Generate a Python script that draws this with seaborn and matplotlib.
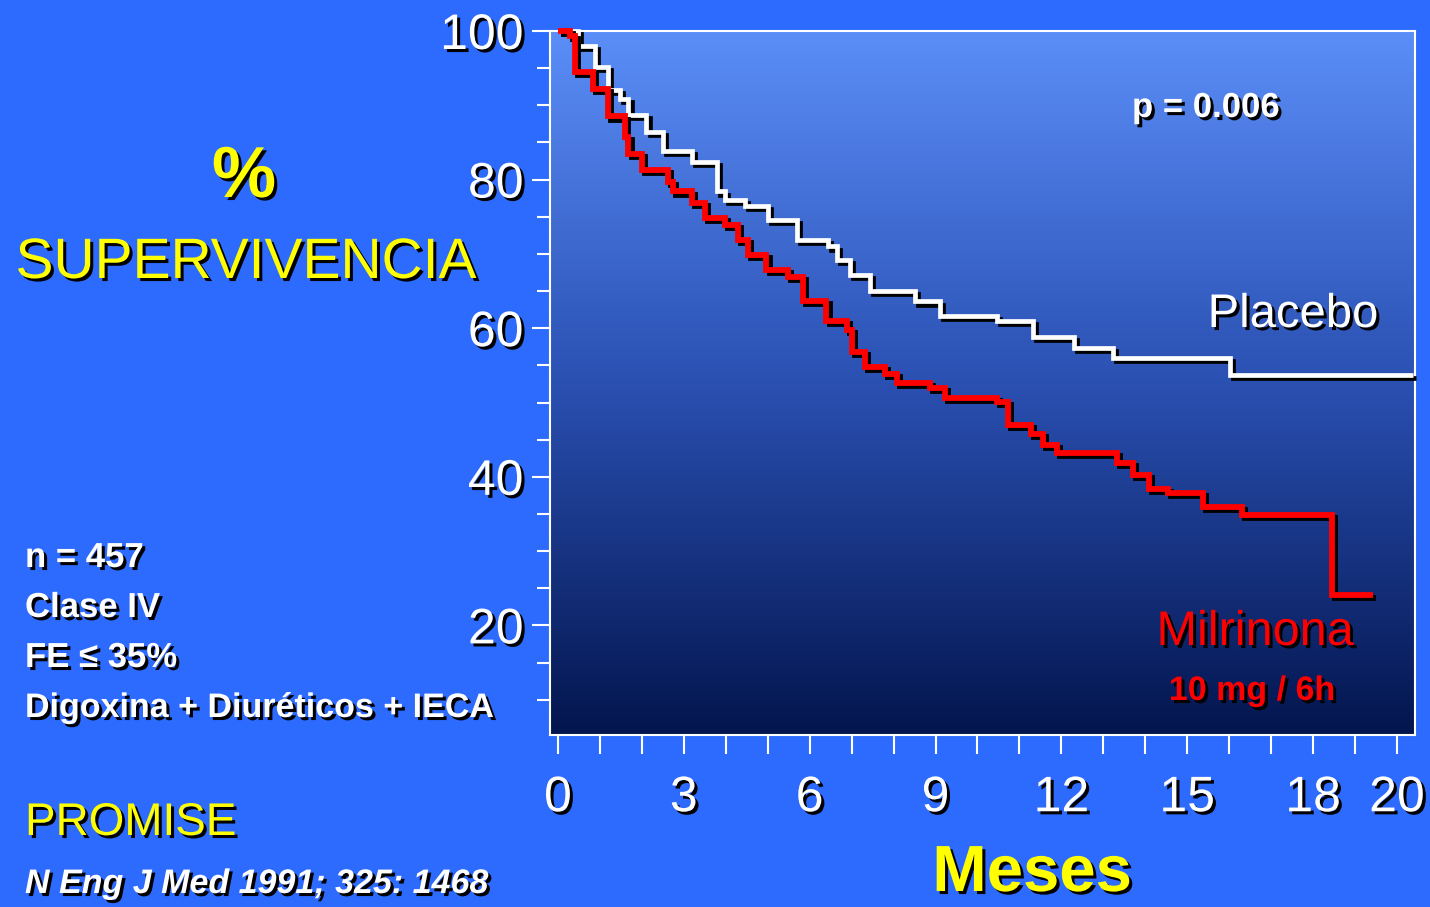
import numpy as np
import pandas as pd
import matplotlib
matplotlib.use("Agg")
import matplotlib.pyplot as plt
import matplotlib.patheffects as pe
from matplotlib.colors import LinearSegmentedColormap
import seaborn as sns

# Kaplan-Meier survival (% alive) over months of follow-up, PROMISE trial
placebo_meses = [0, 0.48, 0.88, 1.20, 1.48, 1.68, 2.11, 2.51, 3.19, 3.78, 3.98,
                 4.46, 5.01, 5.69, 6.44, 6.64, 6.96, 7.44, 8.51, 9.10, 10.46,
                 11.33, 12.30, 13.24, 16.02, 20.38]
placebo_superv = [100, 98.0, 95.2, 92.0, 90.9, 88.7, 86.4, 83.8, 82.4, 78.4, 77.3,
                  76.4, 74.6, 71.9, 71.0, 69.2, 67.2, 65.0, 63.6, 61.7, 61.0,
                  58.8, 57.4, 56.0, 53.7, 53.7]

milrinona_meses = [0, 0.29, 0.40, 0.84, 1.20, 1.60, 1.68, 2.00, 2.63, 2.75, 3.19,
                   3.50, 3.98, 4.28, 4.54, 4.97, 5.49, 5.83, 6.40, 6.88, 7.00,
                   7.32, 7.80, 8.07, 8.87, 9.23, 10.46, 10.73, 11.27, 11.57, 11.89,
                   13.32, 13.71, 14.09, 14.55, 15.38, 16.30, 18.44, 19.42]
milrinona_superv = [100, 99.3, 94.5, 92.2, 88.5, 85.8, 83.5, 81.3, 79.7, 78.4, 76.8,
                    74.8, 73.9, 71.9, 69.8, 67.8, 66.9, 63.7, 61.0, 59.8, 56.8,
                    54.8, 53.9, 52.6, 51.9, 50.6, 50.1, 47.0, 45.8, 44.3, 43.2,
                    41.8, 40.2, 38.4, 37.8, 36.0, 34.9, 24.1, 24.1]

x_ticks = [0, 3, 6, 9, 12, 15, 18, 20]
x_minor = [m for m in range(0, 21) if m not in x_ticks]
y_ticks = [20, 40, 60, 80, 100]
y_minor = [v for v in range(10, 100, 5) if v not in y_ticks]

sns.set_theme(style="ticks")
plt.rcParams["font.family"] = ["Liberation Sans", "DejaVu Sans"]

BG = "#2D6BFF"
YELLOW = "#FFFF00"
RED = "#FF0000"
W, H = 1430, 907

fig = plt.figure(figsize=(W / 100, H / 100), dpi=100, facecolor=BG)
ax = fig.add_axes([550 / W, 1 - 735 / H, 865 / W, 704 / H])

xlim = (-0.19, 20.43)
ylim = (5.25, 100)
ax.set_xlim(*xlim)
ax.set_ylim(*ylim)

# vertical blue gradient panel
fondo = LinearSegmentedColormap.from_list("fondo", ["#03154E", "#2A50B2", "#5B8EF8"])
grad = np.linspace(0, 1, 256).reshape(-1, 1)
ax.imshow(grad, extent=[xlim[0], xlim[1], ylim[0], ylim[1]], origin="lower",
          aspect="auto", cmap=fondo, zorder=0, interpolation="bilinear")

line_fx = [pe.SimpleLineShadow(offset=(2.2, -2.2), shadow_color="black", alpha=1.0),
           pe.Normal()]

df_placebo = pd.DataFrame({"Meses": placebo_meses, "Supervivencia": placebo_superv})
df_milri = pd.DataFrame({"Meses": milrinona_meses, "Supervivencia": milrinona_superv})

sns.lineplot(data=df_placebo, x="Meses", y="Supervivencia", estimator=None,
             drawstyle="steps-post", color="white", linewidth=3.4, ax=ax,
             path_effects=line_fx, solid_joinstyle="miter", solid_capstyle="butt",
             clip_on=False, zorder=3)
sns.lineplot(data=df_milri, x="Meses", y="Supervivencia", estimator=None,
             drawstyle="steps-post", color=RED, linewidth=4.2, ax=ax,
             path_effects=line_fx, solid_joinstyle="miter", solid_capstyle="butt",
             clip_on=False, zorder=4)

ax.set_xlabel("")
ax.set_ylabel("")

for s in ax.spines.values():
    s.set_color("white")
    s.set_linewidth(1.5)
    s.set_visible(True)

ax.set_xticks(x_ticks)
ax.set_xticks(x_minor, minor=True)
ax.set_yticks(y_ticks)
ax.set_yticks(y_minor, minor=True)
ax.set_xticklabels([str(v) for v in x_ticks])
ax.set_yticklabels([str(v) for v in y_ticks])

ax.tick_params(axis="x", which="both", direction="out", length=14, width=1.5,
               color="white", pad=15, labelsize=36, labelcolor="white")
ax.tick_params(axis="y", which="major", direction="out", length=13, width=1.5,
               color="white", pad=6, labelsize=36, labelcolor="white")
ax.tick_params(axis="y", which="minor", direction="out", length=9.5, width=1.5,
               color="white")

txt_fx = [pe.withSimplePatchShadow(offset=(2.2, -2.2), shadow_rgbFace="black", alpha=1.0)]
for tl in ax.get_xticklabels() + ax.get_yticklabels():
    tl.set_path_effects(txt_fx)


def ftext(px, py, s, **kw):
    kw.setdefault("path_effects", txt_fx)
    return fig.text(px / W, 1 - py / H, s, **kw)


# left-hand titles and study notes
ftext(244, 197, "%", color=YELLOW, fontsize=52, fontweight="bold",
      ha="center", va="baseline")
ftext(246, 278, "SUPERVIVENCIA", color=YELLOW, fontsize=41,
      ha="center", va="baseline")
ftext(25, 567, "n = 457", color="white", fontsize=25, fontweight="bold", va="baseline")
ftext(25, 617, "Clase IV", color="white", fontsize=25, fontweight="bold", va="baseline")
ftext(25, 667, "FE ≤ 35%", color="white", fontsize=25, fontweight="bold", va="baseline")
ftext(25, 717, "Digoxina + Diuréticos + IECA", color="white", fontsize=24.5,
      fontweight="bold", va="baseline")
ftext(25, 835, "PROMISE", color=YELLOW, fontsize=33, va="baseline")
ftext(25, 893, "N Eng J Med 1991; 325: 1468", color="white", fontsize=24.5,
      fontweight="bold", fontstyle="italic", va="baseline")

# annotations inside the panel
ftext(1132, 117, "p = 0.006", color="white", fontsize=25, fontweight="bold",
      va="baseline")
ftext(1293, 327, "Placebo", color="white", fontsize=34, ha="center", va="baseline")
ftext(1255, 645, "Milrinona", color=RED, fontsize=35, ha="center", va="baseline")
ftext(1252, 700, "10 mg / 6h", color=RED, fontsize=24.5, fontweight="bold",
      ha="center", va="baseline")

# x-axis title
ftext(1032, 891, "Meses", color=YELLOW, fontsize=47, fontweight="bold",
      ha="center", va="baseline")

fig.savefig("out.png", dpi=100, facecolor=BG)
